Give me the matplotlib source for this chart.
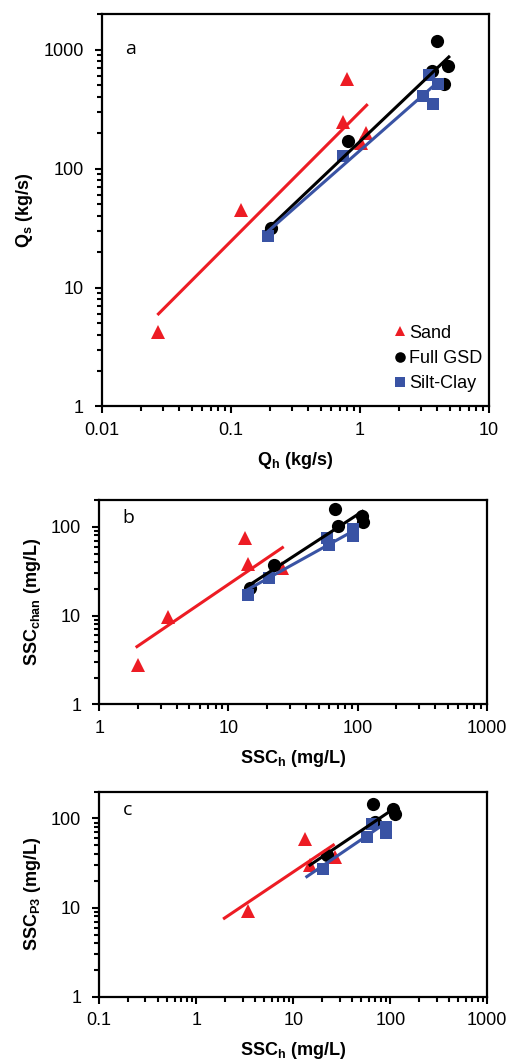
import numpy as np
import matplotlib
matplotlib.use('Agg')
import matplotlib.pyplot as plt
from matplotlib import ticker

plt.rcParams['font.family'] = ['Liberation Sans', 'DejaVu Sans']
plt.rcParams['mathtext.fontset'] = 'custom'
plt.rcParams['mathtext.rm'] = 'Liberation Sans:bold'
plt.rcParams['mathtext.bf'] = 'Liberation Sans:bold'

RED = '#ED1C24'
BLUE = '#3953A4'
BLACK = '#000000'

# ---- panel a : Qs vs Qh ----
sand_qh = [0.0273, 0.12, 0.79, 0.745, 1.115, 1.03]
sand_qs = [4.2, 44.8, 571, 247, 200, 165]
full_qh = [0.205, 0.804, 3.94, 3.6, 4.84, 4.49]
full_qs = [31.4, 171, 1183, 658, 730, 518]
silt_qh = [0.193, 0.745, 3.43, 4.06, 3.10, 3.71]
silt_qs = [27.1, 128, 617, 518, 411, 352]
fit_a = {'sand': ([0.0275, 1.13], [6.0, 341]),
         'full': ([0.19, 4.9], [30.4, 868]),
         'silt': ([0.193, 4.0], [29.5, 530])}

# ---- panel b : SSC_chan vs SSC_h ----
sand_b_x = [2.0, 3.38, 13.5, 14.3, 25.9]
sand_b_y = [2.77, 9.6, 75.7, 37.7, 34.6]
full_b_x = [14.7, 22.6, 67.1, 70, 108, 111]
full_b_y = [20.5, 36.7, 158, 101, 133, 112]
silt_b_x = [14.06, 20.8, 57.8, 60.6, 92.9, 92.9]
silt_b_y = [17.2, 26.2, 75.7, 62.5, 95.7, 79]
fit_b = {'sand': ([1.96, 26.2], [4.47, 58.3]),
         'full': ([14.06, 109], [21.4, 149]),
         'silt': ([14.06, 92.9], [19.6, 90])}

# ---- panel c : SSC_P3 vs SSC_h ----
sand_c_x = [3.4, 13.2, 14.9, 27]
sand_c_y = [9.3, 59.3, 29.9, 37]
full_c_x = [22.1, 65.9, 69.7, 107.6, 112]
full_c_y = [38.6, 146, 91, 128, 113]
silt_c_x = [20.5, 58, 64.4, 90.3, 90.3]
silt_c_y = [27.4, 61.8, 87.3, 81, 69]
fit_c = {'sand': ([1.95, 25.9], [7.63, 50.4]),
         'full': ([14.9, 103.5], [30.1, 124]),
         'silt': ([13.8, 88.3], [22.3, 88])}

fig = plt.figure(figsize=(5.14, 10.64), dpi=100)
ax_a = fig.add_axes([0.198, 0.618, 0.753, 0.369])
ax_b = fig.add_axes([0.193, 0.338, 0.754, 0.192])
ax_c = fig.add_axes([0.193, 0.063, 0.755, 0.193])


def draw(ax, sx, sy, fx, fy, cx, cy, fits):
    ax.plot(sx, sy, '^', color=RED, ms=9.5, mew=0, label='Sand', zorder=3)
    ax.plot(fx, fy, 'o', color=BLACK, ms=9.5, mew=0, label='Full GSD', zorder=3)
    ax.plot(cx, cy, 's', color=BLUE, ms=8.5, mew=0, label='Silt-Clay', zorder=3)
    ax.plot(*fits['sand'], color=RED, lw=2.2, zorder=4)
    ax.plot(*fits['full'], color=BLACK, lw=2.2, zorder=4)
    ax.plot(*fits['silt'], color=BLUE, lw=2.2, zorder=4)


def style(ax, xlim, ylim, xlabel, ylabel, letter):
    ax.set_xscale('log')
    ax.set_yscale('log')
    ax.set_xlim(*xlim)
    ax.set_ylim(*ylim)
    fmt = ticker.FuncFormatter(lambda v, _: f'{v:g}')
    ax.xaxis.set_major_formatter(fmt)
    ax.yaxis.set_major_formatter(fmt)
    ax.xaxis.set_minor_formatter(ticker.NullFormatter())
    ax.yaxis.set_minor_formatter(ticker.NullFormatter())
    ax.xaxis.set_minor_locator(ticker.LogLocator(base=10, subs=np.arange(2, 10), numticks=20))
    ax.yaxis.set_minor_locator(ticker.LogLocator(base=10, subs=np.arange(2, 10), numticks=20))
    ax.tick_params(which='major', direction='out', length=5, width=1.5, labelsize=13)
    ax.tick_params(axis='y', which='major', pad=8)
    ax.tick_params(axis='x', which='major', pad=6)
    ax.tick_params(which='minor', direction='out', length=3.5, width=1.5)
    for s in ax.spines.values():
        s.set_linewidth(1.6)
    ax.set_xlabel(xlabel, fontsize=13, fontweight='bold', labelpad=8)
    ax.set_ylabel(ylabel, fontsize=13, fontweight='bold', labelpad=6)
    ax.text(0.06, 0.91, letter, transform=ax.transAxes, fontsize=14,
            family=['Open Sans', 'DejaVu Sans'], va='center')


draw(ax_a, sand_qh, sand_qs, full_qh, full_qs, silt_qh, silt_qs, fit_a)
style(ax_a, (0.01, 10), (1, 2000), r'Q$_{\rm h}$ (kg/s)', r'Q$_{\rm s}$ (kg/s)', 'a')
ax_a.legend(loc='lower right', bbox_to_anchor=(1.02, 0.0), frameon=False, fontsize=13,
            handletextpad=0.0, handlelength=1.0, labelspacing=0.45, borderaxespad=0.4,
            markerscale=0.8)

draw(ax_b, sand_b_x, sand_b_y, full_b_x, full_b_y, silt_b_x, silt_b_y, fit_b)
style(ax_b, (1, 1000), (1, 200), r'SSC$_{\rm h}$ (mg/L)', r'SSC$_{\rm chan}$ (mg/L)', 'b')

draw(ax_c, sand_c_x, sand_c_y, full_c_x, full_c_y, silt_c_x, silt_c_y, fit_c)
style(ax_c, (0.1, 1000), (1, 200), r'SSC$_{\rm h}$ (mg/L)', r'SSC$_{\rm P3}$ (mg/L)', 'c')

fig.savefig('out.png', dpi=100)
